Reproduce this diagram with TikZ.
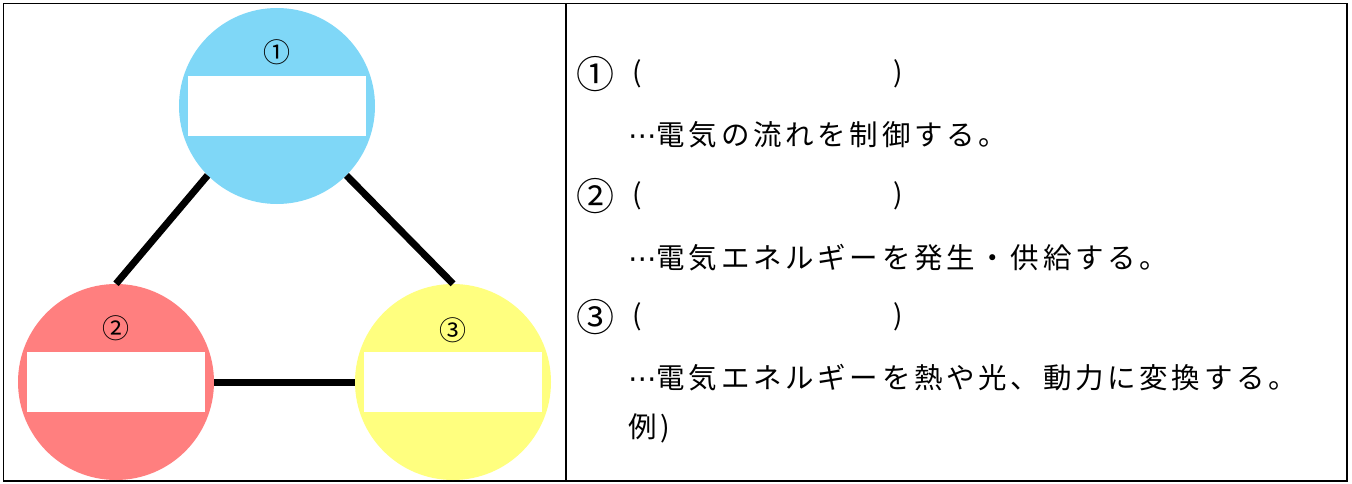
\documentclass[tikz,border=0pt]{standalone}
\usepackage{fontspec}
\setmainfont{Noto Sans CJK JP}
\newfontfamily\symfont{DejaVu Sans}
\usepackage{tikz}
\usetikzlibrary{positioning}
\definecolor{ctrlblue}{RGB}{127,215,247}
\definecolor{srcred}{RGB}{255,127,127}
\definecolor{loadyellow}{RGB}{255,255,127}
\newcommand{\dotlead}{{\symfont ⋯}}

\begin{document}
\begin{tikzpicture}[x=1pt, y=-1pt, node distance=11pt]
	\tikzstyle{part} = [circle, minimum size=196pt, inner sep=0pt]
	\tikzstyle{blank} = [fill=white, minimum width=178pt, minimum height=60pt, inner sep=0pt]
	\tikzstyle{num} = [font=\fontsize{27}{27}\selectfont\addfontfeature{FakeBold=-0.4}, inner sep=0pt]
	\tikzstyle{wire} = [line width=7pt]
	\tikzstyle{label} = [font=\fontsize{38}{38}\selectfont, anchor=west, inner sep=0pt]
	\tikzstyle{paren} = [font=\fontsize{28}{28}\selectfont, anchor=west, inner sep=0pt]
	\tikzstyle{txt} = [font=\fontsize{28.5}{28.5}\selectfont\addfontfeature{LetterSpace=13}, anchor=west, inner sep=0pt]

	\useasboundingbox (0,0) rectangle (1352,484);
	\draw[line width=1.5pt] (3.5,3.5) rectangle (1347,481);
	\draw[line width=1.5pt] (566,3.5) -- (566,481);

	% circles
	\node[part, fill=ctrlblue](control) at (277,106) {};
	\node[part, fill=srcred](source) at (116,382) {};
	\node[part, fill=loadyellow](load) at (453,382) {};

	\node[blank](controlbox) at (control.center) {};
	\node[blank](sourcebox) at (source.center) {};
	\node[blank](loadbox) at (load.center) {};

	\node[num, above =of controlbox](controlnum){①};
	\node[num, above =of sourcebox](sourcenum){②};
	\node[num, above =of loadbox, yshift=-2pt](loadnum){③};

	\draw[wire] (control.225) -- (source.north);
	\draw[wire] (control.-45) -- (load.north);
	\draw[wire] (source.east) -- (load.west);

	% right column
	\node[label](num1) at (576,74) {①};
	\node[paren](open1) at (632,74) {(};
	\node[paren](close1) at (893,74) {)};
	\node[txt](desc1) at (628,135) {\dotlead 電気の流れを制御する。};

	\node[label](num2) at (576,196) {②};
	\node[paren](open2) at (632,196) {(};
	\node[paren](close2) at (893,196) {)};
	\node[txt](desc2) at (628,258) {\dotlead 電気エネルギーを発生・供給する。};

	\node[label](num3) at (576,317) {③};
	\node[paren](open3) at (632,317) {(};
	\node[paren](close3) at (893,317) {)};
	\node[txt](desc3) at (628,378) {\dotlead 電気エネルギーを熱や光、動力に変換する。};
	\node[txt](example) at (628,428) {例)};
\end{tikzpicture}
\end{document}
